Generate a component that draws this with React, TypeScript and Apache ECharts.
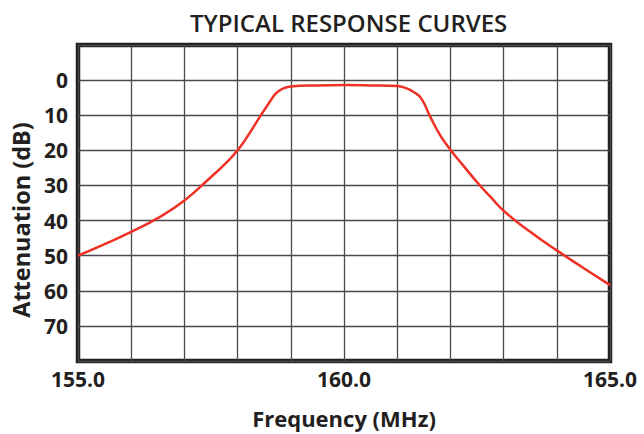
import React, { useEffect, useRef } from "react";
import * as echarts from "echarts";

const freqs = [155.0, 155.5, 156.0, 156.5, 157.0, 157.5, 157.75, 158.0, 158.2, 158.4, 158.6, 158.72, 158.85, 159.0, 159.5, 160.0, 160.5, 161.0, 161.15, 161.3, 161.45, 161.62, 161.8, 162.0, 162.25, 162.56, 162.75, 163.0, 163.5, 164.0, 164.5, 165.0];
const attenuation = [50, 46.7, 43.2, 39.3, 34.3, 27.6, 24.1, 20, 15.7, 10.9, 6.3, 3.8, 2.4, 1.8, 1.5, 1.4, 1.5, 1.7, 2.2, 3.3, 5.2, 10.4, 15.5, 19.8, 24.5, 30.1, 33.2, 37.2, 43.2, 48.5, 53.5, 58.4];
const xLabels = [155, 160, 165];
const yLabels = [0, 10, 20, 30, 40, 50, 60, 70];

export default function App() {
  const ref = useRef<HTMLDivElement>(null);
  useEffect(() => {
    const chart = echarts.init(ref.current!, null, { renderer: "svg" });
    const font = "Open Sans";
    const ink = "#231f20";
    chart.setOption({
      animation: false,
      title: {
        text: "TYPICAL RESPONSE CURVES",
        left: 185,
        top: 5,
        textStyle: { fontFamily: font, fontSize: 24, fontWeight: 600, color: ink },
      },
      grid: {
        left: 78,
        right: 34,
        top: 45,
        bottom: 70,
        show: true,
        borderWidth: 4.5,
        borderColor: ink,
        backgroundColor: "#fff",
      },
      xAxis: {
        type: "value",
        min: 155,
        max: 165,
        interval: 1,
        name: "Frequency (MHz)",
        nameLocation: "middle",
        nameGap: 46,
        nameTextStyle: { fontFamily: font, fontSize: 22, fontWeight: "bold", color: ink },
        axisLine: { show: false },
        axisTick: { show: false },
        splitLine: { show: true, lineStyle: { color: "#4a4a4a", width: 1.3 } },
        axisLabel: {
          margin: 7,
          fontFamily: font,
          fontSize: 21,
          fontWeight: "bold",
          color: ink,
          showMinLabel: true,
          showMaxLabel: true,
          formatter: (v: number) => (xLabels.includes(Math.round(v * 10) / 10) ? v.toFixed(1) : ""),
        },
      },
      yAxis: {
        type: "value",
        inverse: true,
        min: -10,
        max: 80,
        interval: 10,
        name: "Attenuation (dB)",
        nameLocation: "middle",
        nameGap: 43,
        nameTextStyle: { fontFamily: font, fontSize: 23.5, fontWeight: "bold", color: ink, padding: [0, 34, 0, 0] },
        axisLine: { show: false },
        axisTick: { show: false },
        splitLine: { show: true, lineStyle: { color: "#4a4a4a", width: 1.3 } },
        axisLabel: {
          margin: 10,
          fontFamily: font,
          fontSize: 21,
          fontWeight: "bold",
          color: ink,
          formatter: (v: number) => (yLabels.includes(v) ? String(v) : ""),
        },
      },
      series: [
        {
          type: "line",
          data: freqs.map((f, i) => [f, attenuation[i]]),
          smooth: 0.5,
          showSymbol: false,
          lineStyle: { color: "#ee3124", width: 2.5 },
          clip: true,
        },
      ],
    });
    return () => chart.dispose();
  }, []);
  return <div ref={ref} style={{ position: "absolute", left: 0, top: 0, width: 644, height: 434 }} />;
}
